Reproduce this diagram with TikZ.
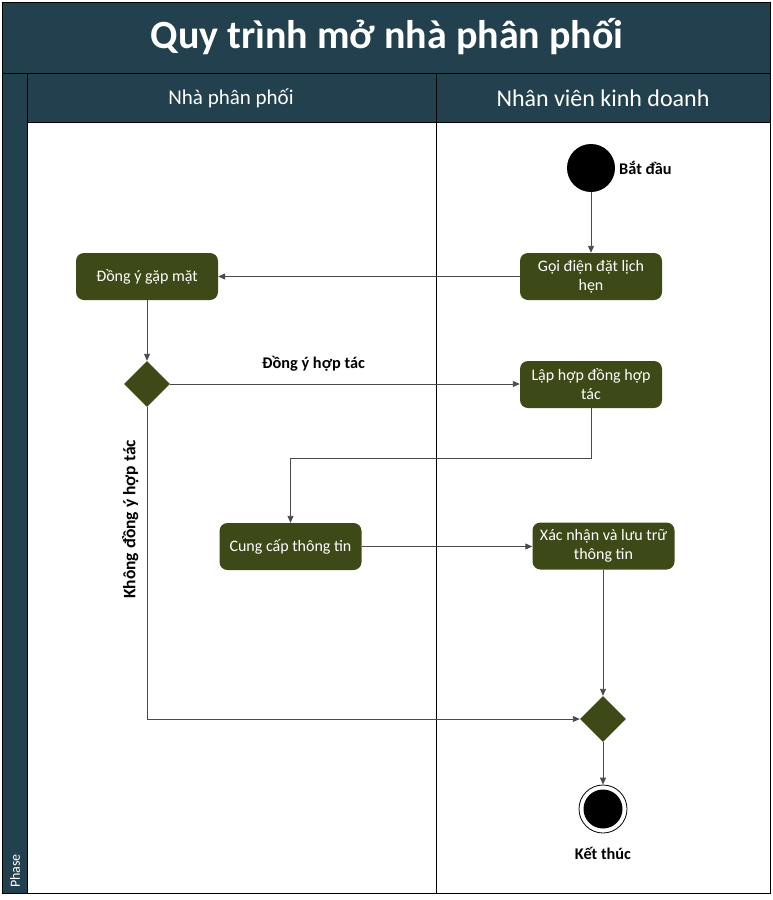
\documentclass[tikz,border=0pt]{standalone}
\usepackage{fontspec}
\setmainfont{Carlito}
\usetikzlibrary{arrows.meta, shapes.geometric}

\definecolor{headteal}{HTML}{22404D}
\definecolor{actolive}{HTML}{3D4A18}
\definecolor{flowgray}{HTML}{4A4A4A}

\begin{document}
\begin{tikzpicture}[x=1pt, y=-1pt,
    every node/.style={inner sep=2pt},
    action/.style={rectangle, rounded corners=8pt, fill=actolive, text=white,
        minimum width=142pt, minimum height=47pt, align=center,
        font=\fontsize{16}{19}\selectfont},
    decision/.style={diamond, fill=actolive, minimum width=46pt, minimum height=46pt, inner sep=0pt},
    flow/.style={draw=flowgray, line width=0.9pt, -{Triangle[width=6pt,length=7pt]}},
    tag/.style={font=\fontsize{16.3}{19}\selectfont\bfseries}]
    % 1. Khung, tieu de va lan
    \useasboundingbox (0,0) rectangle (772,900);
    \fill[white] (0,0) rectangle (772,900);
    \filldraw[fill=headteal, draw=black, line width=1pt] (2,2) rectangle (770,73);
    \node[text=white, font=\fontsize{40}{44}\selectfont\bfseries] (title) at (387,37) {Quy trình mở nhà phân phối};
    \filldraw[fill=headteal, draw=black, line width=1pt] (27,73) rectangle (436,122);
    \filldraw[fill=headteal, draw=black, line width=1pt] (436,73) rectangle (770,122);
    \node[text=white, font=\fontsize{21}{24}\selectfont] (lane1) at (231,98) {Nhà phân phối};
    \node[text=white, font=\fontsize{24}{27}\selectfont] (lane2) at (603,98) {Nhân viên kinh doanh};
    \filldraw[fill=headteal, draw=black, line width=1pt] (2,73) rectangle (27,893);
    \node[text=white, rotate=90, font=\fontsize{14}{16}\selectfont] (phase) at (15,871) {Phase};
    \draw[black, line width=1pt] (27,122) rectangle (770,893);
    \draw[black, line width=1pt] (436,122) -- (436,893);

    % 2. Cac nut
    \node[circle, fill=black, minimum size=48pt, inner sep=0pt] (start) at (591,168) {};
    \node[tag, anchor=west] (startlbl) at (617,168) {Bắt đầu};
    \node[action] (goi) at (591,276.5) {Gọi điện đặt lịch\\hẹn};
    \node[action] (dongy) at (147,276.5) {Đồng ý gặp mặt};
    \node[decision] (dec1) at (147,384) {};
    \node[action] (lap) at (591,384.5) {Lập hợp đồng hợp\\tác};
    \node[action] (cung) at (290.5,546.5) {Cung cấp thông tin};
    \node[action] (xac) at (603.5,546) {Xác nhận và lưu trữ\\thông tin};
    \node[decision] (dec2) at (603,719) {};
    \node[circle, draw=black, line width=0.8pt, minimum size=48pt, inner sep=0pt] (stop) at (603,809) {};
    \fill[black] (stop.center) circle (19.5pt);
    \node[tag] (stoplbl) at (603,853) {Kết thúc};

    % 3. Cac luong
    \draw[flow] (start) -- (goi);
    \draw[flow] (goi) -- (dongy);
    \draw[flow] (dongy) -- (dec1);
    \draw[flow] (dec1.east) -- node[tag, above=10pt, pos=0.41] {Đồng ý hợp tác} (lap.west |- dec1.east);
    \draw[flow] (lap.south) -- ++(0,50) -| (cung.north);
    \draw[flow] (cung) -- (xac.west |- cung.east);
    \draw[flow] (xac.south -| dec2.north) -- (dec2.north);
    \draw[flow] (dec1.south) |- node[tag, rotate=90, pos=0.18, anchor=south, inner sep=8pt, font=\fontsize{17.5}{20}\selectfont\bfseries] {Không đồng ý hợp tác} (dec2.west);
    \draw[flow] (dec2) -- (stop);

\end{tikzpicture}
\end{document}
